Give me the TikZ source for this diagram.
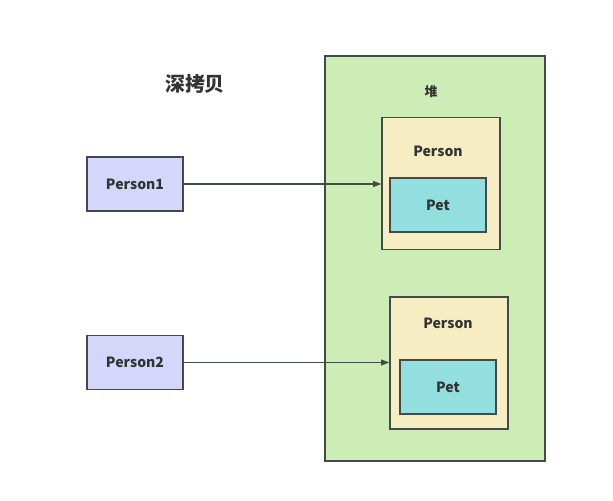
\documentclass[tikz,border=0pt]{standalone}
\usepackage{fontspec}
\setmainfont{Noto Sans CJK SC}
\usetikzlibrary{arrows.meta,positioning}
\definecolor{EdgeGray}{RGB}{68, 74, 74}
\definecolor{TextGray}{RGB}{51, 51, 51}
\definecolor{RefBlue}{RGB}{212, 215, 250}
\definecolor{HeapGreen}{RGB}{204, 237, 181}
\definecolor{ObjCream}{RGB}{246, 237, 194}
\definecolor{PetCyan}{RGB}{147, 223, 224}

\begin{document}
\begin{tikzpicture}[x=0.03cm, y=-0.03cm,
      every node/.style={font=\fontsize{12}{14}\selectfont\bfseries, text=TextGray, align=center},
      box/.style={rectangle, draw=EdgeGray, line width=1pt, inner sep=0pt},
      refbox/.style={box, fill=RefBlue, minimum width=96*0.03cm, minimum height=54*0.03cm},
      objbox/.style={box, fill=ObjCream, minimum width=118*0.03cm, minimum height=132*0.03cm},
      petbox/.style={box, fill=PetCyan, minimum width=96*0.03cm, minimum height=54*0.03cm},
      pointer/.style={-{Triangle[length=7pt, width=5pt]}, line width=1pt, draw=EdgeGray}
    ]
      \useasboundingbox (0,0) rectangle (613,500);

      % Heap
      \node[box, fill=HeapGreen, minimum width=220*0.03cm, minimum height=405*0.03cm] (heap) at (435, 258.5) {};
      \node[font=\fontsize{11}{13}\selectfont\bfseries] (heaplbl) at (431, 92) {堆};

      % Title
      \node[font=\fontsize{17}{20}\selectfont\bfseries] (title) at (195, 84) {深拷贝};

      % References
      \node[refbox] (p1) at (135, 184) {Person1};
      \node[refbox] (p2) at (135, 362.5) {Person2};

      % Objects on the heap
      \node[objbox] (obj1) at (441, 183.5) {};
      \node (obj1lbl) at (438, 151) {Person};
      \node[petbox] (pet1) at (438, 205) {Pet};

      \node[objbox] (obj2) at (449, 363) {};
      \node (obj2lbl) at (448, 323) {Person};
      \node[petbox] (pet2) at (448, 387) {Pet};

      % Pointers
      \draw[pointer] (p1.east) -- (obj1.west |- p1.east);
      \draw[pointer] (p2.east) -- (obj2.west |- p2.east);
    \end{tikzpicture}
\end{document}
